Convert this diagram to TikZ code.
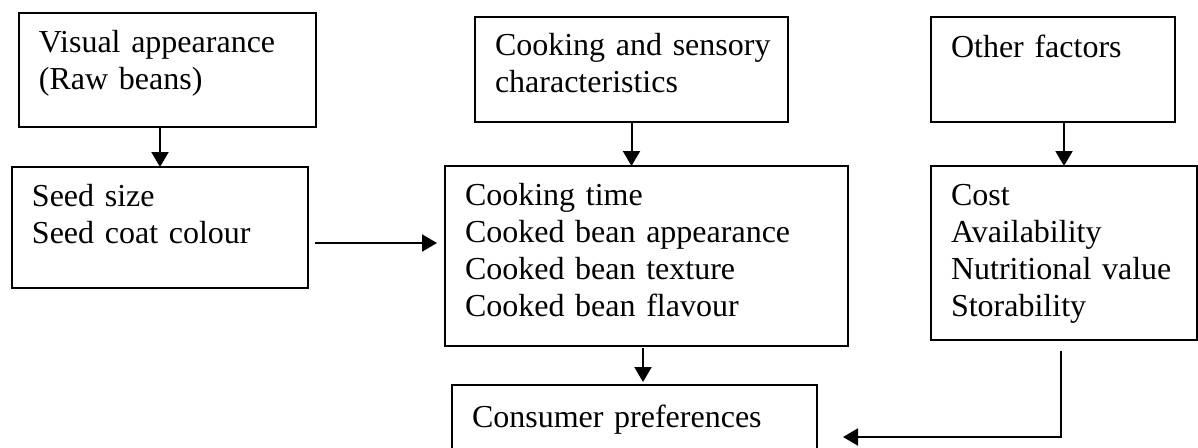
\documentclass[tikz,border=0pt]{standalone}
\usepackage{fontspec}
\setmainfont{Liberation Serif}
\usetikzlibrary{arrows.meta}

\begin{document}
\begin{tikzpicture}[x=0.5pt, y=-0.5pt,
    box/.style={draw, line width=1pt, anchor=north west, align=left,
      inner xsep=10pt, inner ysep=0pt, outer sep=0pt,
      font=\fontsize{16pt}{18.5pt}\selectfont},
    arr/.style={line width=1pt, -{Triangle[length=7.5pt, width=8.5pt]}}]
  \useasboundingbox (0,0) rectangle (1198,447);

  \node[box, text width=128.5pt, text height=19.9pt, text depth=37.1pt] (visual) at (19,13)
    {Visual appearance\\(Raw beans)};
  \node[box, text width=128pt, text height=19.9pt, text depth=40.6pt] (seed) at (12,167)
    {Seed size\\Seed coat colour};
  \node[box, text width=136.5pt, text height=19pt, text depth=33.5pt] (cooking) at (475,17)
    {\mbox{Cooking and sensory}\\characteristics};
  \node[box, text width=181.5pt, text height=19.5pt, text depth=70.5pt] (cooked) at (445,166)
    {Cooking time\\Cooked bean appearance\\Cooked bean texture\\Cooked bean flavour};
  \node[box, text width=102pt, text height=20pt, text depth=32.5pt] (other) at (931,17)
    {Other factors};
  \node[box, text width=113pt, text height=19.5pt, text depth=67.5pt] (cost) at (931,166)
    {Cost\\Availability\\Nutritional value\\Storability};
  \node[box, text width=162.5pt, text height=21pt, text depth=31pt] (consumer) at (452,385)
    {Consumer preferences};

  \draw[arr] (seed.north |- visual.south) -- (seed.north);
  \draw[arr] (cooking.south) -- (cooking.south |- cooked.north);
  \draw[arr] (cost.north |- other.south) -- (cost.north);
  \draw[arr, shorten <=3.5pt, shorten >=4pt] ([yshift=-7.75pt]seed.east) -- ([yshift=-7.75pt]seed.east -| cooked.west);
  \draw[arr, shorten <=1pt, shorten >=1.5pt] ([xshift=-1.75pt]cooked.south) -- ([xshift=-1.75pt]cooked.south |- consumer.north);
  \draw[arr, shorten <=5.5pt, shorten >=13pt] ([xshift=-1.5pt]cost.south) |- (consumer.east);
\end{tikzpicture}
\end{document}
